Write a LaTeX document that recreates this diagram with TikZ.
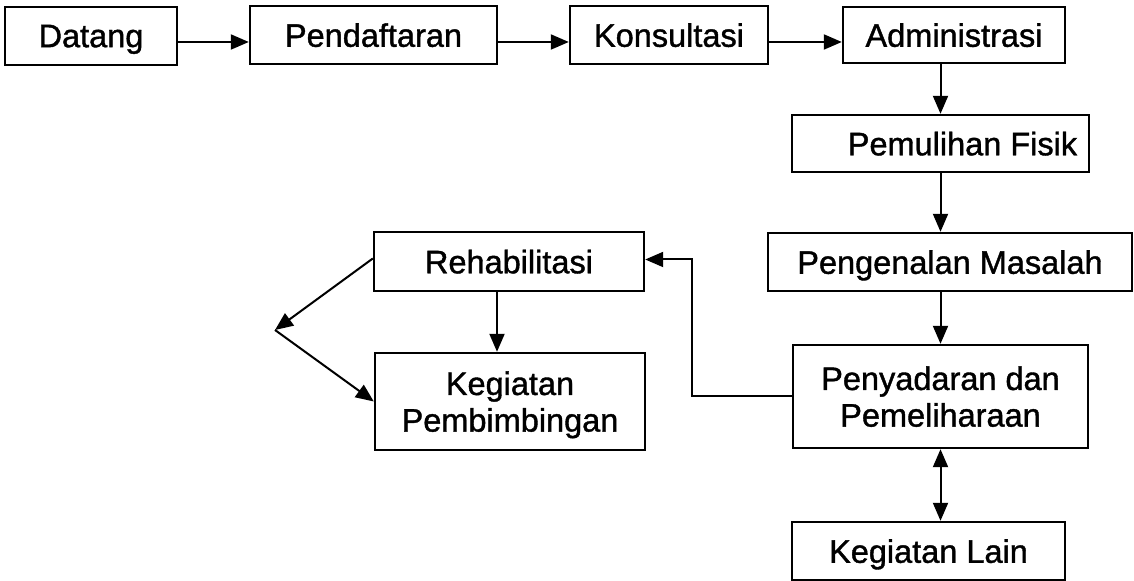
\documentclass[tikz,border=0pt]{standalone}
\usepackage{fontspec}
\setmainfont{Liberation Sans}[BoldFont=Liberation Sans, BoldFeatures={FakeBold=1.2}]
\usetikzlibrary{arrows.meta}
\tikzset{
  kotak/.style={draw, line width=1.2pt, inner sep=0pt, align=center, text depth=0pt,
    font=\fontsize{16.25}{18.3}\selectfont\bfseries},
  panah/.style={line width=1pt, -{Triangle[length=9pt,width=7.5pt]}}
}
\begin{document}
\begin{tikzpicture}[x=0.5pt,y=-0.5pt]
\useasboundingbox (0,0) rectangle (1134,581);
\node[kotak, minimum width=86pt, minimum height=29pt] (datang) at (91,36) {Datang};
\node[kotak, minimum width=123.5pt, minimum height=29pt] (daftar) at (373.5,35) {Pendaftaran};
\node[kotak, minimum width=99pt, minimum height=29pt] (konsul) at (669,35) {Konsultasi};
\node[kotak, minimum width=111pt, minimum height=28pt] (admin) at (954,35) {Administrasi};
\node[kotak, minimum width=148.5pt, minimum height=28.5pt] (fisik) at (940.5,143.5) {\hspace*{22pt}Pemulihan Fisik};
\node[kotak, minimum width=182pt, minimum height=29pt] (kenal) at (950,262) {Pengenalan Masalah};
\node[kotak, minimum width=147.5pt, minimum height=51.5pt] (sadar) at (940.5,396.5) {Penyadaran dan\\Pemeliharaan};
\node[kotak, minimum width=136.5pt, minimum height=29pt] (lain) at (928.5,551) {Kegiatan Lain};
\node[kotak, minimum width=135pt, minimum height=29.5pt] (rehab) at (509,261.5) {Rehabilitasi};
\node[kotak, minimum width=135pt, minimum height=48.5pt] (bimbing) at (510,401.5) {Kegiatan\\Pembimbingan};
\coordinate (ujung) at (275,330);
% alur atas
\draw[panah] ([yshift=-3pt]datang.east) -- ([yshift=-3pt]daftar.west |- datang.east);
\draw[panah] ([yshift=-3.5pt]daftar.east) -- ([yshift=-3.5pt]konsul.west);
\draw[panah] ([yshift=-3.5pt]konsul.east) -- ([yshift=-3.5pt]admin.west |- konsul.east);
% alur ke bawah
\draw[panah] (fisik.north |- admin.south) -- (fisik.north);
\draw[panah] (fisik.south) -- (fisik.south |- kenal.north);
\draw[panah] (sadar.north |- kenal.south) -- (sadar.north);
\draw[line width=1pt, {Triangle[length=9pt,width=7.5pt]}-{Triangle[length=9pt,width=7.5pt]}] (sadar.south) -- (sadar.south |- lain.north);
\draw[panah] (sadar.west) -- ++(-100,0) |- ([yshift=1pt]rehab.east);
\draw[panah] ([xshift=-6pt]rehab.south) -- ([xshift=-6pt]rehab.south |- bimbing.north);
\draw[panah] ([yshift=1.5pt]rehab.west) -- (ujung);
\draw[panah] (ujung) -- (bimbing.west);
\end{tikzpicture}
\end{document}
